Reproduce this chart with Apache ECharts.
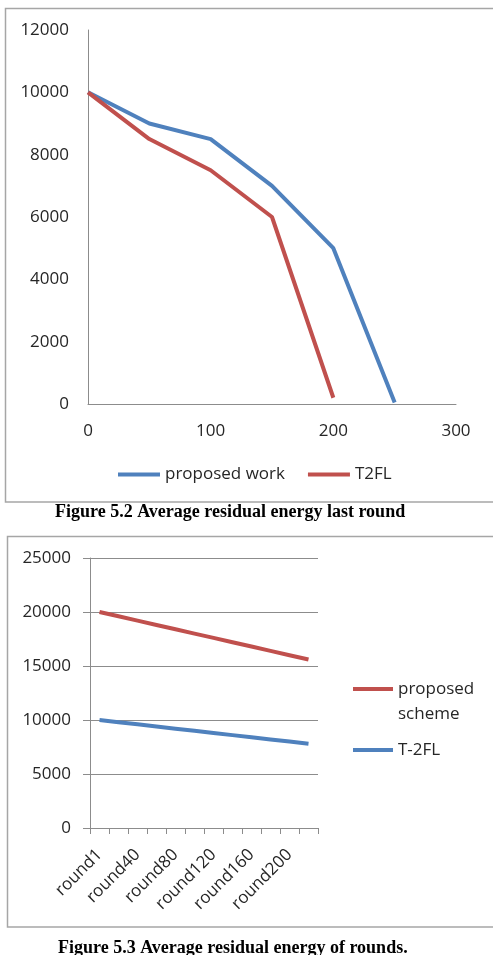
<!DOCTYPE html>
<html>
<head>
<meta charset="utf-8">
<script src="https://cdn.jsdelivr.net/npm/echarts@6/dist/echarts.min.js"></script>
<style>
  html, body { margin: 0; padding: 0; background: #fff; }
  #chart { width: 493px; height: 955px; }
</style>
</head>
<body>
<div id="chart"></div>
<script>
// figure 5.2 - residual energy vs round (value x axis)
const lastRoundX = [0, 50, 100, 150, 200, 250];
const proposedWork = [10000, 9000, 8500, 7000, 5000, 50];
const t2flX = [0, 50, 100, 150, 200];
const t2fl = [10000, 8500, 7500, 6000, 200];

// figure 5.3 - residual energy per round
const rounds = ["round1", "round20", "round40", "round60", "round80", "round100",
  "round120", "round140", "round160", "round180", "round200", "round220"];
const proposedScheme = [20000, 19600, 19200, 18800, 18400, 18000, 17600, 17200, 16800, 16400, 16000, 15600];
const t_2fl = [10000, 9800, 9600, 9400, 9200, 9000, 8800, 8600, 8400, 8200, 8000, 7800];

const BLUE = "#4f81bd";
const RED = "#c0504d";
const AXIS = "#8c8c8c";
const FONT = "Open Sans";
const txt = { fontFamily: FONT, fontSize: 17, color: "#262626" };
const plain = (v) => String(v);   // no thousands separator
const captionStyle = { fontFamily: "Liberation Serif", fontWeight: "bold", fontSize: 18, color: "#000" };

const chart = echarts.init(document.getElementById("chart"), null, { renderer: "canvas" });

const option = {
  animation: false,
  backgroundColor: "#fff",
  textStyle: { fontFamily: FONT },
  graphic: [
    { type: "rect", shape: { x: 5.5, y: 8.5, width: 500, height: 493.5 },
      style: { fill: "none", stroke: "#a6a6a6", lineWidth: 1.5 }, silent: true },
    { type: "rect", shape: { x: 7.5, y: 536.5, width: 500, height: 390.5 },
      style: { fill: "none", stroke: "#a6a6a6", lineWidth: 1.5 }, silent: true }
  ],
  title: [
    { text: "Figure 5.2 Average residual energy last round", left: 55, top: 503, padding: 0,
      textStyle: captionStyle },
    { text: "Figure 5.3 Average residual energy of rounds.", left: 58, top: 939, padding: 0,
      textStyle: captionStyle }
  ],
  grid: [
    { left: 88, top: 30, width: 368, height: 374 },
    { left: 90, top: 558, width: 228, height: 270 }
  ],
  legend: [
    {
      left: 118, top: 466, padding: 0, itemGap: 23,
      itemWidth: 42, itemHeight: 4, icon: "rect",
      textStyle: txt,
      data: ["proposed work", "T2FL"]
    },
    {
      orient: "vertical", left: 353, top: 651.5, padding: 0, itemGap: 11,
      itemWidth: 40, itemHeight: 4, icon: "rect",
      textStyle: Object.assign({ lineHeight: 25 }, txt),
      // leading blank line keeps the icon level with the first word, as in Excel
      formatter: (n) => n === "proposed scheme" ? " \nproposed\nscheme" : n,
      data: ["proposed scheme", "T-2FL"]
    }
  ],
  xAxis: [
    {
      type: "value", gridIndex: 0, min: 0, max: 300, interval: 100,
      axisLine: { lineStyle: { color: AXIS } },
      axisTick: { show: false },
      splitLine: { show: false },
      axisLabel: Object.assign({ margin: 19, formatter: plain }, txt)
    },
    {
      type: "category", gridIndex: 1, data: rounds, boundaryGap: true,
      axisLine: { lineStyle: { color: AXIS } },
      axisTick: { show: true, interval: 0, length: 6, lineStyle: { color: AXIS } },
      axisLabel: Object.assign({ interval: 1, rotate: 45, margin: 24 }, txt)
    }
  ],
  yAxis: [
    {
      type: "value", gridIndex: 0, min: 0, max: 12000, interval: 2000,
      axisLine: { show: true, lineStyle: { color: AXIS } },
      axisTick: { show: false },
      splitLine: { show: false },
      axisLabel: Object.assign({ margin: 19, formatter: plain }, txt)
    },
    {
      type: "value", gridIndex: 1, min: 0, max: 25000, interval: 5000,
      axisLine: { show: true, lineStyle: { color: AXIS } },
      axisTick: { show: true, length: 7, lineStyle: { color: AXIS } },
      splitLine: { show: true, lineStyle: { color: AXIS } },
      axisLabel: Object.assign({ margin: 19, formatter: plain }, txt)
    }
  ],
  series: [
    {
      name: "proposed work", type: "line", xAxisIndex: 0, yAxisIndex: 0,
      data: lastRoundX.map((x, i) => [x, proposedWork[i]]),
      symbol: "none", lineStyle: { width: 4, color: BLUE }, itemStyle: { color: BLUE }
    },
    {
      name: "T2FL", type: "line", xAxisIndex: 0, yAxisIndex: 0,
      data: t2flX.map((x, i) => [x, t2fl[i]]),
      symbol: "none", lineStyle: { width: 4, color: RED }, itemStyle: { color: RED }
    },
    {
      name: "proposed scheme", type: "line", xAxisIndex: 1, yAxisIndex: 1,
      data: proposedScheme,
      symbol: "none", lineStyle: { width: 4, color: RED }, itemStyle: { color: RED }
    },
    {
      name: "T-2FL", type: "line", xAxisIndex: 1, yAxisIndex: 1,
      data: t_2fl,
      symbol: "none", lineStyle: { width: 4, color: BLUE }, itemStyle: { color: BLUE }
    }
  ]
};

chart.setOption(option);
</script>
</body>
</html>
